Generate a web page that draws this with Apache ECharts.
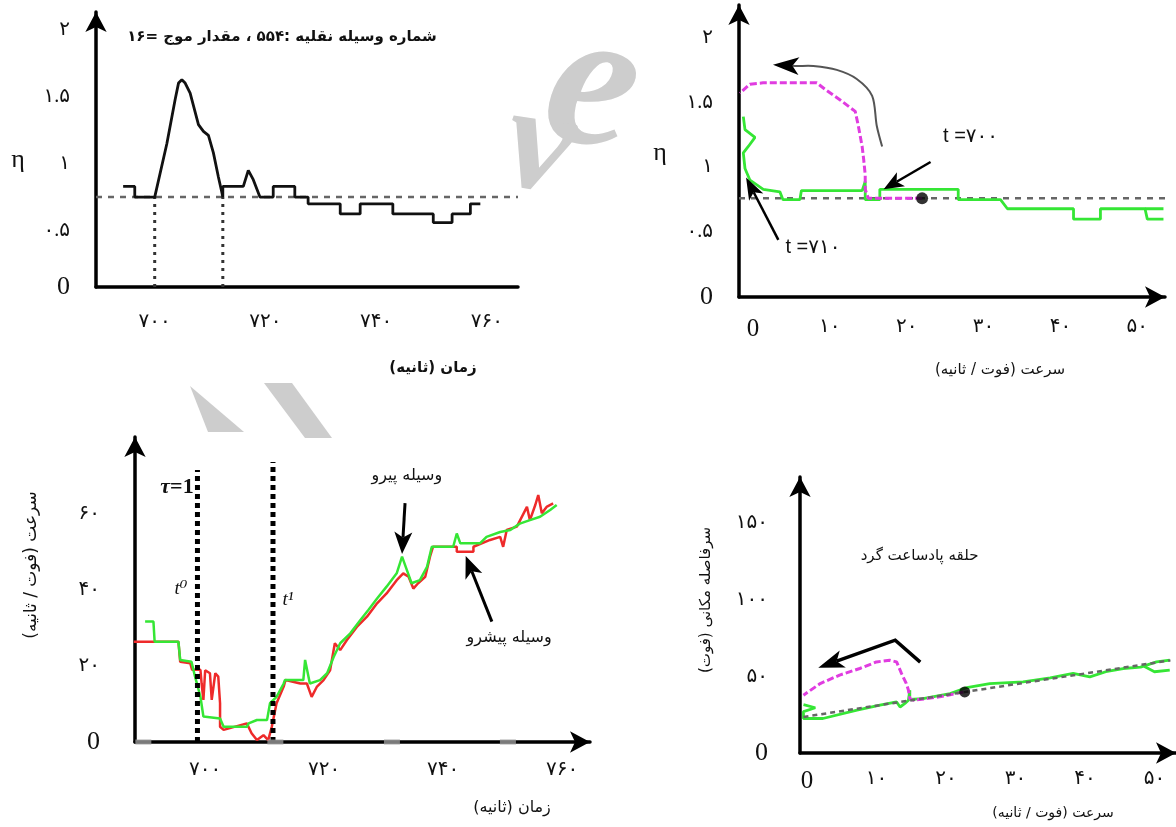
<!DOCTYPE html>
<html>
<head>
<meta charset="utf-8">
<script src="https://cdn.jsdelivr.net/npm/echarts@6/dist/echarts.min.js"></script>
<style>
html, body { margin: 0; padding: 0; background: #fff; }
#main { width: 1176px; height: 827px; direction: rtl; }
</style>
</head>
<body>
<div id="main"></div>
<script>
// ---- panel 1 : eta over time ----
const p1EtaTicks = [0, 0.5, 1, 1.5, 2];
const p1TimeTicks = [700, 720, 740, 760];
const p1Threshold = 0.67;
const p1Crossings = [700, 712.3];
const p1Eta = [[694.3,0.75],[696.4,0.75],[696.4,0.67],[700.0,0.67],[702.2,1.07],[703.7,1.40],[704.3,1.52],[704.9,1.545],
  [705.5,1.52],[706.4,1.445],[707.9,1.21],[708.8,1.16],[709.7,1.13],[710.6,1.0],[711.5,0.82],[712.1,0.71],[712.3,0.67],
  [712.3,0.75],[716.0,0.75],[716.9,0.87],[717.8,0.8],[719.0,0.67],[721.4,0.67],[721.4,0.75],[725.3,0.75],[725.3,0.67],
  [727.7,0.67],[727.7,0.62],[733.5,0.62],[733.5,0.545],[737.1,0.545],[737.1,0.62],[743.0,0.62],[743.0,0.545],
  [750.3,0.545],[750.3,0.48],[753.7,0.48],[753.7,0.545],[757.0,0.545],[757.0,0.62],[758.8,0.62]];

// ---- panel 2 : eta against speed ----
const p2EtaTicks = [0, 0.5, 1, 1.5, 2];
const p2SpeedTicks = [0, 10, 20, 30, 40, 50];
const p2Threshold = 0.76;
const p2Start = [22.0, 0.76];
const p2Magenta = [[22.0,0.76],[15.0,0.76],[14.6,0.83],[14.6,0.94],[14.4,1.06],[14.2,1.16],[13.7,1.32],[13.3,1.43],
  [11.3,1.52],[9.6,1.59],[8.3,1.65],[1.3,1.65],[-0.4,1.64],[-1.7,1.57]];
const p2Green = [[-1.26,1.39],[-1.04,1.29],[0.26,1.23],[-0.61,1.16],[-1.26,1.11],[-1.04,0.99],[-0.39,0.9],[1.34,0.83],
  [3.5,0.81],[3.9,0.75],[6.1,0.75],[6.3,0.82],[14.2,0.82],[14.6,0.89],[14.6,0.75],[16.5,0.75],[16.5,0.83],[26.7,0.83],
  [26.7,0.75],[32.2,0.75],[33.1,0.68],[41.7,0.68],[41.7,0.6],[45.2,0.6],[45.2,0.68],[51.0,0.68],[51.3,0.6],[53.4,0.6]];
const p2GreenTail = [[51.0,0.68],[53.4,0.68]];

// ---- panel 3 : speed over time ----
const p3SpeedTicks = [0, 20, 40, 60];
const p3TimeTicks = [700, 720, 740, 760];
const p3Tau = 698.7;
const p3T1 = 711.4;
const p3AxisMarks = [689.6, 711.8, 731.4, 750.9];
const p3Follower = [[689.9,31.7],[691.3,31.7],[691.5,26.4],[695.5,26.4],[695.8,21.6],[697.7,21.1],[698.3,17.2],[699.2,11.9],
  [699.7,6.7],[702.5,6.2],[703.1,4.0],[707.0,4.0],[707.3,4.9],[708.7,5.8],[710.4,5.8],[710.9,10.2],[712.0,11.9],[713.2,15.4],
  [713.4,16.3],[716.5,16.3],[716.8,21.6],[717.6,15.4],[719.3,16.3],[720.5,18.1],[721.6,22.4],[722.7,26.0],[724.4,28.6],
  [726.1,32.1],[727.4,34.7],[728.9,37.8],[730.5,40.9],[732.2,44.4],[733.1,48.8],[733.9,45.3],[734.7,41.8],[736.1,42.6],
  [737.3,46.1],[738.1,51.4],[741.7,51.4],[742.3,54.9],[742.9,52.3],[746.2,52.3],[747.3,54.0],[749.6,55.3],[751.3,55.8],
  [752.9,57.5],[754.6,58.4],[756.3,59.3],[758.0,61.1],[759.1,62.4]];
const p3Leader = [[688.0,26.4],[695.5,26.4],[695.8,21.1],[697.5,20.7],[697.8,19.0],[699.2,19.0],[699.4,15.4],[699.7,11.1],
  [700.0,18.9],[700.8,18.1],[701.1,11.1],[701.7,18.1],[702.2,17.2],[702.5,10.2],[702.5,4.0],[703.1,3.2],[707.0,4.9],
  [707.8,2.3],[708.7,0.5],[709.8,1.8],[710.6,0.5],[711.2,4.0],[712.0,10.2],[713.2,14.6],[713.5,16.3],[716.0,15.4],
  [717.1,15.4],[717.9,11.9],[718.8,14.6],[719.9,16.3],[721.0,18.9],[721.8,26.0],[722.7,24.2],[723.8,26.8],[725.5,30.3],
  [727.2,33.0],[728.9,36.5],[730.5,39.1],[732.2,42.6],[733.3,44.4],[734.2,43.5],[735.0,40.4],[735.8,41.8],[737.0,43.5],
  [737.8,48.8],[738.3,51.4],[742.3,51.4],[742.3,50.1],[745.1,50.1],[745.1,51.4],[747.9,53.2],[749.6,54.0],[750.1,51.4],
  [750.7,55.8],[752.4,56.7],[754.1,61.9],[754.6,58.4],[755.5,62.4],[756.0,65.0],[756.6,60.2],[757.4,61.9],[758.5,62.8]];

// ---- panel 4 : spacing against speed ----
const p4GapTicks = [0, 50, 100, 150];
const p4SpeedTicks = [0, 10, 20, 30, 40, 50];
const p4Start = [22.7, 39.8];
const p4Equilibrium = [[-0.5,23.5],[22.7,39.8],[52.3,60.4]];
const p4Magenta = [[22.5,39.8],[19.1,36.6],[15.3,34.4],[14.8,35.5],[14.6,41.0],[14.3,45.3],[13.6,51.9],[12.9,59.4],
  [11.9,60.5],[10.0,59.4],[7.6,55.1],[4.7,50.8],[1.9,45.3],[-0.5,37.7]];
const p4Green = [[-0.5,31.5],[1.2,29.5],[-0.5,27.0],[-0.5,22.5],[2.3,22.5],[7.2,27.9],[10.5,31.2],[12.9,33.3],[13.4,30.0],
  [14.1,32.3],[14.6,34.4],[14.8,41.0],[14.8,35.0],[16.7,35.5],[20.6,38.8],[23.0,42.6],[26.3,45.3],[31.1,46.4],[35.0,49.0],
  [38.3,51.9],[40.7,49.6],[43.0,53.0],[45.5,55.1],[48.0,56.0],[50.3,59.4],[52.2,60.5]];
const p4GreenTail = [[48.5,56.5],[50.0,53.0],[52.2,54.0]];

const faDigits = '۰۱۲۳۴۵۶۷۸۹';
function fa(v) {
  if (v === 0) return '0';
  return String(v).replace(/[0-9]/g, d => faDigits[+d]);
}

const LBL = '"Liberation Serif", "DejaVu Sans", serif';
const FA = '"DejaVu Sans", sans-serif';
const GREEN = '#35e635', MAGENTA = '#e03ce0', RED = '#ee2a2a';

function xAxisCfg(idx, min, max, ticks, margin, arrow) {
  return {
    type: 'value', gridIndex: idx, min: min, max: max,
    splitLine: { show: false },
    axisTick: { show: false },
    axisLine: { onZero: false, lineStyle: { color: '#000', width: 3.5 },
      symbol: arrow ? ['none', 'arrow'] : 'none', symbolSize: [16, 20] },
    axisLabel: { customValues: ticks, margin: margin, color: '#111', fontFamily: LBL,
      formatter: v => v === 0 ? '{z|0}' : '{d|' + fa(v) + '}',
      rich: { z: { fontSize: 25, fontFamily: LBL }, d: { fontSize: 20, fontFamily: LBL } } }
  };
}
function yAxisCfg(idx, min, max, ticks, margin, shift) {
  return {
    type: 'value', gridIndex: idx, min: min, max: max,
    splitLine: { show: false },
    axisTick: { show: false },
    axisLine: { onZero: false, lineStyle: { color: '#000', width: 3.5 },
      symbol: ['none', 'arrow'], symbolSize: [16, 20] },
    axisLabel: { customValues: ticks, margin: margin, color: '#111', fontFamily: LBL,
      formatter: v => v === 0 ? '{z|0}' : '{d|' + fa(v) + '}',
      rich: { z: { fontSize: 26, fontFamily: LBL }, d: { fontSize: 20, fontFamily: LBL, padding: [shift, 0, 0, 0] } } }
  };
}
function line(xi, data, color, width, type, z) {
  return { type: 'line', xAxisIndex: xi, yAxisIndex: xi, data: data, showSymbol: false, silent: true,
    lineStyle: { color: color, width: width, type: type || 'solid' }, z: z || 2 };
}

const chart = echarts.init(document.getElementById('main'));
chart.setOption({
  animation: false,
  backgroundColor: '#fff',
  grid: [
    { left: 96, top: 12, width: 422, height: 275 },
    { left: 739, top: 5, width: 426, height: 292 },
    { left: 135, top: 437, width: 455, height: 305 },
    { left: 800, top: 477, width: 376, height: 276 }
  ],
  xAxis: [
    xAxisCfg(0, 689.4, 765.6, p1TimeTicks, 25, false),
    xAxisCfg(1, -1.82, 53.6, p2SpeedTicks, 20, true),
    xAxisCfg(2, 688.2, 764.7, p3TimeTicks, 18, true),
    xAxisCfg(3, -1.0, 53.1, p4SpeedTicks, 16, true)
  ],
  yAxis: [
    yAxisCfg(0, 0, 2.05, p1EtaTicks, 26, 22),
    yAxisCfg(1, 0, 2.25, p2EtaTicks, 26, 0),
    yAxisCfg(2, 0, 80.3, p3SpeedTicks, 35, 0),
    yAxisCfg(3, 0, 180, p4GapTicks, 32, 0)
  ],
  series: [
    // panel 1
    line(0, [[689.4, p1Threshold], [765.6, p1Threshold]], '#666', 2.5, [6, 6]),
    line(0, [[p1Crossings[0], 0], [p1Crossings[0], p1Threshold]], '#333', 3, [3, 5]),
    line(0, [[p1Crossings[1], 0], [p1Crossings[1], p1Threshold]], '#333', 3, [3, 5]),
    line(0, p1Eta, '#111', 2.8, 'solid', 3),
    // panel 2
    line(1, [[-1.82, p2Threshold], [53.6, p2Threshold]], '#666', 2.5, [6, 6]),
    line(1, p2Green, GREEN, 2.8, 'solid', 3),
    line(1, p2GreenTail, GREEN, 2.8, 'solid', 3),
    line(1, p2Magenta, MAGENTA, 3, [7, 3], 4),
    { type: 'scatter', xAxisIndex: 1, yAxisIndex: 1, data: [p2Start], symbolSize: 12, itemStyle: { color: '#000' }, z: 5 },
    // panel 3
    line(2, p3Leader, RED, 2.5, 'solid', 3),
    line(2, p3Follower, GREEN, 2.5, 'solid', 4),
    line(2, [[p3Tau, 0], [p3Tau, 71.6]], '#000', 5, [5, 4], 5),
    line(2, [[p3T1, 0], [p3T1, 73.7]], '#000', 5, [5, 4], 5),
    { type: 'scatter', xAxisIndex: 2, yAxisIndex: 2, data: p3AxisMarks.map(t => [t, 0]), symbol: 'rect',
      symbolSize: [16, 5], itemStyle: { color: '#999' }, z: 6 },
    // panel 4
    line(3, p4Equilibrium, '#666', 2.5, [5, 4], 5),
    line(3, p4Green, GREEN, 2.8, 'solid', 3),
    line(3, p4GreenTail, GREEN, 2.8, 'solid', 3),
    line(3, p4Magenta, MAGENTA, 3, [7, 3], 4),
    { type: 'scatter', xAxisIndex: 3, yAxisIndex: 3, data: [p4Start], symbolSize: 11, itemStyle: { color: '#000' }, z: 6 }
  ]
});

// annotations, placed from data coordinates
function px(g, p) { return chart.convertToPixel({ gridIndex: g }, p); }
function arrow(g, pts, head, half, color, width, smooth) {
  const P = pts.map(p => px(g, p));
  const tip = P[P.length - 1], prev = P[P.length - 2];
  const dx = tip[0] - prev[0], dy = tip[1] - prev[1], L = Math.hypot(dx, dy);
  const ux = dx / L, uy = dy / L, nx = -uy, ny = ux;
  const base = [tip[0] - ux * head, tip[1] - uy * head];
  const notch = [tip[0] - ux * head * 0.75, tip[1] - uy * head * 0.75];
  return [
    { type: 'polyline', z: 20, shape: { points: P.slice(0, -1).concat([notch]), smooth: smooth || 0 },
      style: { stroke: color, lineWidth: width, fill: null } },
    { type: 'polygon', z: 21, shape: { points: [tip, [base[0] + nx * half, base[1] + ny * half], notch,
      [base[0] - nx * half, base[1] - ny * half]] }, style: { fill: '#000' } }
  ];
}
function txt(x, y, text, font, extra) {
  return Object.assign({ type: 'text', x: x, y: y, z: 22,
    style: { text: text, font: font, fill: '#111', align: 'center', verticalAlign: 'middle' } }, extra || {});
}
function dtxt(g, p, text, font) {
  const q = px(g, p);
  return txt(q[0], q[1], text, font);
}

const graphics = [
  // faint watermark
  { type: 'text', x: 592, y: 92, z: -5, rotation: -0.2,
    style: { text: 'e', font: 'italic bold 200px "Liberation Serif"', fill: '#cdcdcd', align: 'center', verticalAlign: 'middle' } },
  { type: 'text', x: 540, y: 150, z: -5, rotation: -0.15,
    style: { text: 'v', font: 'italic bold 150px "Liberation Serif"', fill: '#cdcdcd', align: 'center', verticalAlign: 'middle' } },
  { type: 'polygon', z: -5, shape: { points: [[190, 386], [244, 432], [208, 432]] }, style: { fill: '#cdcdcd' } },
  { type: 'polygon', z: -5, shape: { points: [[264, 383], [292, 383], [332, 438], [305, 438]] }, style: { fill: '#cdcdcd' } },

  // panel 1 texts
  txt(282, 37, 'شماره وسیله نقلیه :۵۵۴ ، مقدار موج =۱۶', 'bold 15px ' + FA),
  txt(18, 160, 'η', '26px ' + LBL),
  txt(433, 368, 'زمان (ثانیه)', 'bold 15px ' + FA),

  // panel 2 texts
  txt(660, 153, 'η', '26px ' + LBL),
  txt(1000, 370, 'سرعت (فوت / ثانیه)', '15px ' + FA),
  dtxt(1, [28.3, 1.24], 't =۷۰۰', '20px "Liberation Sans", "DejaVu Sans"'),
  dtxt(1, [7.8, 0.38], 't =۷۱۰', '20px "Liberation Sans", "DejaVu Sans"'),

  // panel 3 texts
  { type: 'text', x: 177, y: 487, z: 22, style: { text: '{a|τ}{b|\u200E=1}', align: 'center', verticalAlign: 'middle',
      rich: { a: { font: 'italic bold 22px "Liberation Serif"', fill: '#111' }, b: { font: 'bold 22px "Liberation Serif"', fill: '#111' } } } },
  txt(181, 589, 't⁰', 'italic 19px "Liberation Serif", "DejaVu Serif"'),
  txt(288, 600, 't¹', 'italic 19px "Liberation Serif", "DejaVu Serif"'),
  dtxt(2, [733.9, 70.2], 'وسیله پیرو', '16px ' + FA),
  dtxt(2, [751.1, 27.5], 'وسیله پیشرو', '16px ' + FA),
  txt(512, 808, 'زمان (ثانیه)', '16px ' + FA),
  txt(32, 565, 'سرعت (فوت / ثانیه)', '17px ' + FA, { rotation: Math.PI / 2 }),

  // panel 4 texts
  dtxt(3, [16.2, 128.5], 'حلقه پادساعت گرد', '15px ' + FA),
  txt(1053, 813, 'سرعت (فوت / ثانیه)', '14px ' + FA),
  txt(706, 600, 'سرفاصله مکانی (فوت)', '15px ' + FA, { rotation: Math.PI / 2 })
].concat(
  arrow(1, [[16.8,1.16],[16.1,1.32],[15.5,1.55],[13.5,1.68],[10.9,1.75],[7.85,1.78],[5.7,1.78],[2.6,1.79]], 26, 9, '#555', 2, 0.3),
  arrow(1, [[23.1,1.04],[17.0,0.83]], 20, 8, '#000', 2.5),
  arrow(1, [[3.3,0.44],[-0.9,0.92]], 22, 8, '#000', 2.5),
  arrow(2, [[733.6,62.9],[733.1,49.5]], 22, 9, '#000', 3),
  arrow(2, [[748.2,31.7],[743.8,49.0]], 22, 9, '#000', 3),
  arrow(3, [[16.3,59.3],[12.7,73.6],[1.63,55.6]], 26, 9, '#000', 3.5)
);

chart.setOption({ graphic: graphics });
</script>
</body>
</html>
